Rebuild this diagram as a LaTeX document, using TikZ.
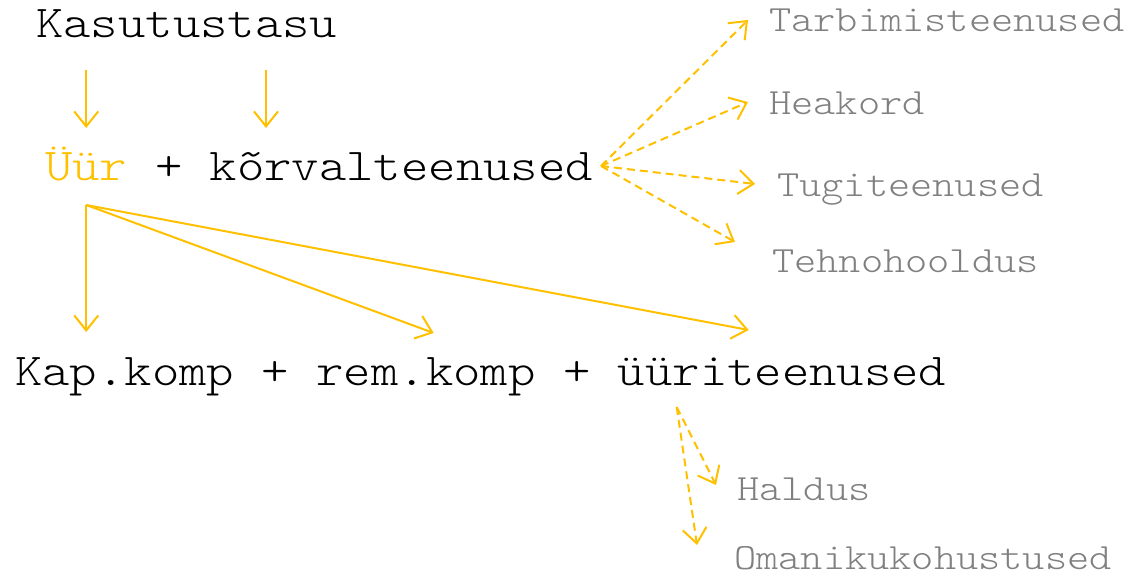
\documentclass[tikz,border=0pt]{standalone}
\usepackage{fontspec}
\newfontfamily\cour[FakeStretch=1.143]{lmmonolt10-regular.otf}
\usetikzlibrary{arrows.meta,calc}
\definecolor{gold}{HTML}{FFC000}
\definecolor{txtgray}{HTML}{808080}

\tikzset{
  txt/.style={inner sep=0pt, anchor=base west},
  big/.style={txt, font=\cour\fontsize{45.6}{50}\selectfont},
  small/.style={txt, font=\cour\fontsize{37}{40}\selectfont, text=txtgray},
  arr/.style={draw=gold, line width=2pt, -{Straight Barb[length=15pt,width=24pt,line width=2pt]}},
  dasharr/.style={arr, dash pattern=on 8pt off 5pt},
}

\begin{document}
\begin{tikzpicture}[x=1pt,y=-1pt]
    \useasboundingbox (0,0) rectangle (1138,577);

    \node[big] (kasutus) at (36,38) {Kasutustasu};
    \node[big, text=gold] (yyr) at (45,181) {Üür};
    \node[big] (korval) at (yyr.base east) {\ + kõrvalteenused};

    \node[big] (kap) at (15,385) {Kap.komp};
    \node[big] (rem) at (kap.base east) {\ + rem.komp};
    \node[big] (yyriteen) at (rem.base east) {\ + üüriteenused};

    \node[small] (tarb) at (769,32) {Tarbimisteenused};
    \node[small] (heakord) at (769,115) {Heakord};
    \node[small] (tugi) at (777,197) {Tugiteenused};
    \node[small] (tehno) at (772,273) {Tehnohooldus};
    \node[small] (haldus) at (737,500) {Haldus};
    \node[small] (omanik) at (734,569) {Omanikukohustused};

    \coordinate (ksplit) at ($(kasutus.base west)+(230,32)$);
    \coordinate (yyrbot) at ($(yyr.base)+(0,24)$);
    \coordinate (korvend) at ($(korval.base east)+(8,-15)$);
    \coordinate (teenbot) at ($(yyriteen.base west)+(141,22)$);

    % kasutustasu jaguneb
    \draw[arr] ($(yyr.base |- kasutus.base)+(0,32)$) -- ($(yyr.base)+(0,-53)$);
    \draw[arr] (ksplit) -- ++(0,58);

    % kõrvalteenused
    \foreach \t/\dx/\dy in {tarb/-21/-12, heakord/-21/-13, tugi/-22/-13, tehno/-37/-31}
    {
        \draw[dasharr] (korvend) -- ($(\t.base west)+(\dx,\dy)$);
    }

    % üür
    \draw[arr] (yyrbot) -- ($(yyr.base |- kap.base)+(0,-53)$);
    \draw[arr] (yyrbot) -- ($(rem.base east)+(-102,-52)$);
    \draw[arr] (yyrbot) -- ($(yyriteen.base west)+(213,-55)$);

    % üüriteenused
    \draw[dasharr] (teenbot) -- ($(haldus.base west)+(-21,-15)$);
    \draw[dasharr] (teenbot) -- ($(omanik.base west)+(-37,-24)$);
\end{tikzpicture}
\end{document}
